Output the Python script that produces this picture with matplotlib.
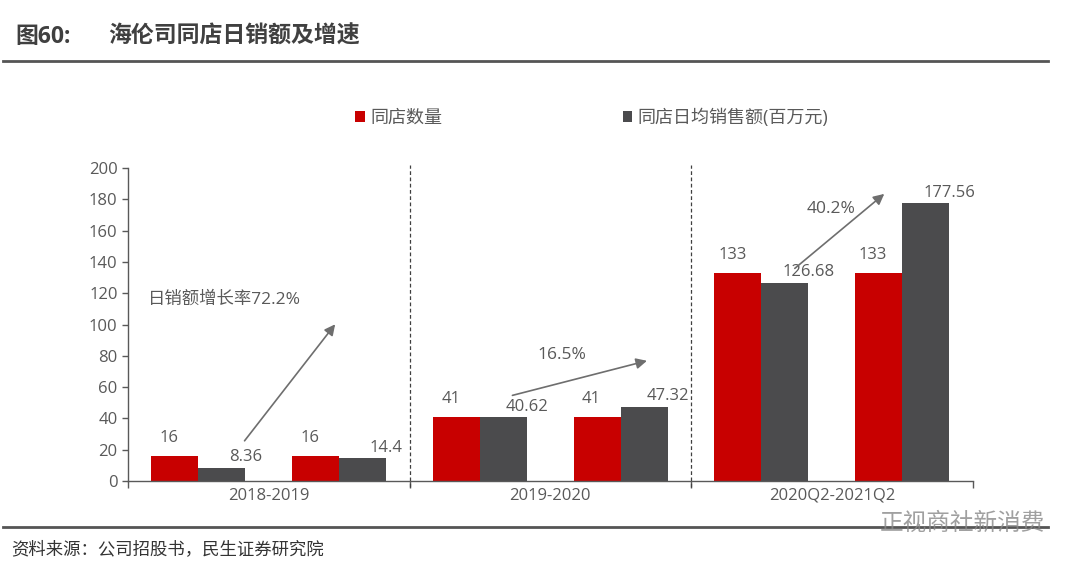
import numpy as np
import matplotlib
matplotlib.use('Agg')
import matplotlib.pyplot as plt

plt.rcParams['font.family'] = ['Open Sans', 'Noto Sans CJK SC', 'DejaVu Sans']

periods = ['2018-2019', '2019-2020', '2020Q2-2021Q2']
store_count = [16, 16, 41, 41, 133, 133]
daily_sales = [8.36, 14.4, 40.62, 47.32, 126.68, 177.56]
growth_labels = ['日销额增长率72.2%', '16.5%', '40.2%']

RED = '#C80000'
GRAY = '#4B4B4D'
TXT = '#595959'


def main():
    fig = plt.figure(figsize=(10.8, 5.74), dpi=100)
    ax = fig.add_axes([0.1185, 0.162, 0.782, 0.545])

    # two pairs of bars per period
    centers = np.array([g + off for g in range(len(periods)) for off in (0.25, 0.75)])
    w = 1 / 6
    ax.bar(centers - w / 2, store_count, w, color=RED, label='同店数量')
    ax.bar(centers + w / 2, daily_sales, w, color=GRAY, label='同店日均销售额(百万元)')

    for c, v in zip(centers, store_count):
        ax.annotate(f'{v:g}', (c - w / 2, v), xytext=(-4, 7), textcoords='offset points',
                    ha='center', va='bottom', fontsize=12, color=TXT)
    for c, v in zip(centers, daily_sales):
        ax.annotate(f'{v:g}', (c + w / 2, v), xytext=(17, 2), textcoords='offset points',
                    ha='center', va='bottom', fontsize=12, color=TXT)

    # growth arrows between the two gray bars of each period
    arrow_kw = dict(arrowstyle='-|>', color='#6E6E6E', lw=1.2, mutation_scale=16)
    ax.annotate('', xy=(0.742, 101.6), xytext=(0.408, 24.3), arrowprops=arrow_kw)
    ax.annotate('', xy=(1.853, 77.3), xytext=(1.356, 54.3), arrowprops=arrow_kw)
    ax.annotate('', xy=(2.694, 184.7), xytext=(2.361, 134.8), arrowprops=arrow_kw)
    ax.text(0.071, 115.7, growth_labels[0], fontsize=12.5, color=TXT, va='center', ha='left')
    ax.text(1.54, 80.5, growth_labels[1], fontsize=12.5, color=TXT, va='center', ha='center')
    ax.text(2.499, 173.8, growth_labels[2], fontsize=12.5, color=TXT, va='center', ha='center')

    for x in (1, 2):
        ax.axvline(x, ymin=-0.02, ymax=1.01, color='#404040', ls=(0, (3, 2)), lw=0.9,
                   clip_on=False)

    ax.set_xlim(0, 3)
    ax.set_ylim(0, 200)
    ax.set_yticks(range(0, 201, 20))
    ax.set_xticks([0, 1, 2, 3])
    ax.set_xticklabels([])
    ax.set_xticks([0.5, 1.5, 2.5], minor=True)
    ax.set_xticklabels(periods, minor=True)
    ax.tick_params(axis='x', which='major', length=5, width=1, color='#595959', direction='out')
    ax.tick_params(axis='x', which='minor', length=0, pad=5, labelsize=12, labelcolor=TXT)
    ax.tick_params(axis='y', length=4, width=1, color='#595959', labelsize=12, labelcolor=TXT)
    for s in ('top', 'right'):
        ax.spines[s].set_visible(False)
    for s in ('left', 'bottom'):
        ax.spines[s].set_color('#595959')
        ax.spines[s].set_linewidth(1)

    leg = ax.legend(loc='lower center', bbox_to_anchor=(0.549, 1.08), ncol=2, frameon=False,
                    fontsize=13, handlelength=0.55, handleheight=0.55, handletextpad=0.3,
                    columnspacing=10)
    for t in leg.get_texts():
        t.set_color(TXT)

    # header and footer
    fig.text(0.014, 0.936, '图60:', fontsize=16.5, fontweight='bold', color='#404040', va='center')
    fig.text(0.1, 0.936, '海伦司同店日销额及增速', fontsize=16.5, fontweight='bold', color='#404040',
             va='center')
    fig.add_artist(plt.Line2D([0.003, 0.97], [0.894, 0.894], color='#555555', lw=2))
    fig.add_artist(plt.Line2D([0.003, 0.97], [0.082, 0.082], color='#555555', lw=2))
    fig.text(0.01, 0.043, '资料来源：公司招股书，民生证券研究院', fontsize=12.5, color='#333333', va='center')
    fig.text(0.968, 0.088, '正视商社新消费', fontsize=17, color='#888888', va='center', ha='right',
             alpha=0.8)

    fig.savefig('out.png', dpi=100)


if __name__ == "__main__":
    main()
